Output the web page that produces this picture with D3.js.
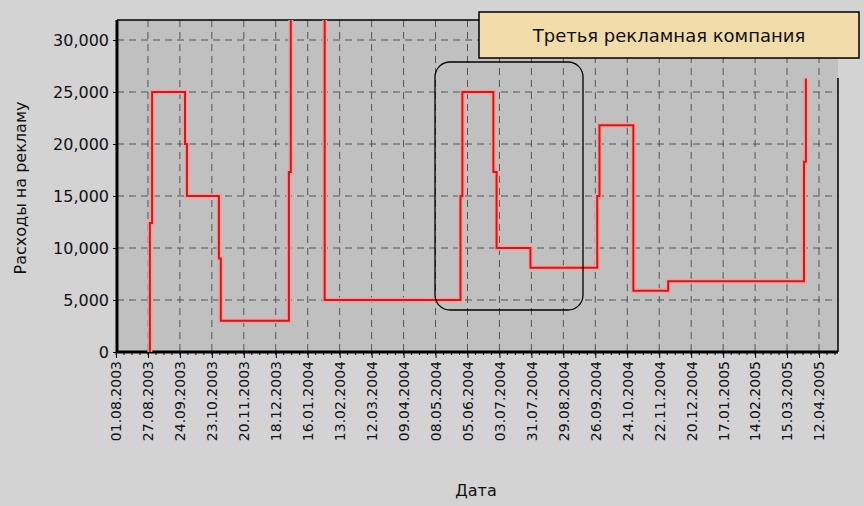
<!DOCTYPE html>
<html>
<head>
<script src="https://d3js.org/d3.v7.min.js"></script>
<style>
  body { margin: 0; background: #d3d3d3; }
  text { font-family: "DejaVu Sans", sans-serif; }
</style>
</head>
<body>
<svg id="chart"></svg>
<script>
const dateLabels = ["01.08.2003", "27.08.2003", "24.09.2003", "23.10.2003", "20.11.2003", "18.12.2003",
  "16.01.2004", "13.02.2004", "12.03.2004", "09.04.2004", "08.05.2004", "05.06.2004", "03.07.2004",
  "31.07.2004", "29.08.2004", "26.09.2004", "24.10.2004", "22.11.2004", "20.12.2004", "17.01.2005",
  "14.02.2005", "15.03.2005", "12.04.2005"];
// position measured in tick units (0 = 01.08.2003), spend in roubles; value changes at each point
const stepPos = [1.06, 1.06, 1.13, 2.16, 2.22, 3.22, 3.28, 5.41, 5.47, 6.53, 10.78, 10.84,
  11.81, 11.91, 12.97, 15.06, 15.13, 16.19, 17.28, 21.53, 21.59];
const stepVal = [0, 12400, 25000, 20000, 15000, 9000, 3000, 17300, 40000, 5000, 15000, 25000,
  17300, 10000, 8100, 15000, 21800, 5900, 6800, 18300, 26300];
const yTicks = [0, 5000, 10000, 15000, 20000, 25000, 30000];

const width = 864, height = 506;
const pLeft = 117, pTop = 20, pRight = 838, pBottom = 352;

const svg = d3.select("#chart").attr("width", width).attr("height", height);

const x = d3.scaleLinear().domain([0, 22]).range([116, 819]);
const y = d3.scaleLinear().domain([0, 30000]).range([pBottom, 40]);

svg.append("rect").attr("x", pLeft).attr("y", pTop)
  .attr("width", pRight - pLeft).attr("height", pBottom - pTop).attr("fill", "#c0c0c0");

svg.append("defs").append("clipPath").attr("id", "clip")
  .append("rect").attr("x", pLeft).attr("y", pTop).attr("width", pRight - pLeft).attr("height", pBottom - pTop);

// grid
const grid = svg.append("g").attr("stroke", "#555").attr("stroke-dasharray", "7,5").attr("stroke-width", 1);
grid.selectAll(".gx").data(d3.range(1, 23)).enter().append("line")
  .attr("x1", d => x(d)).attr("x2", d => x(d)).attr("y1", pTop).attr("y2", pBottom);
grid.selectAll(".gy").data(yTicks.slice(1)).enter().append("line")
  .attr("x1", pLeft).attr("x2", pRight).attr("y1", d => y(d)).attr("y2", d => y(d));

// y axis
const yAxis = svg.append("g").attr("transform", `translate(${pLeft},0)`)
  .call(d3.axisLeft(y).tickValues(yTicks).tickSize(4).tickFormat(d3.format(",")));
yAxis.select(".domain").attr("stroke-width", 3).attr("d", `M0,${pTop}V${pBottom}`);
yAxis.selectAll("text").attr("font-size", 16).attr("fill", "#111").attr("x", -8);

// x axis
const xAxis = svg.append("g").attr("transform", `translate(0,${pBottom})`)
  .call(d3.axisBottom(x).tickValues(d3.range(0, 23)).tickSize(6).tickFormat(i => dateLabels[i]));
xAxis.select(".domain").attr("stroke-width", 3).attr("d", `M${pLeft},0H${pRight}`);
xAxis.selectAll("text").attr("font-size", 14).attr("fill", "#111")
  .attr("transform", "rotate(-90)").attr("text-anchor", "end").attr("x", -9).attr("y", 0).attr("dy", "0.35em");
svg.append("g").attr("stroke", "#000").selectAll("line").data(d3.range(0, 22.6, 0.25)).enter().append("line")
  .attr("x1", d => x(d)).attr("x2", d => x(d)).attr("y1", pBottom).attr("y2", pBottom + 3);

// frame pieces
svg.append("line").attr("x1", pLeft).attr("x2", 480).attr("y1", pTop).attr("y2", pTop).attr("stroke", "#000").attr("stroke-width", 1.5);
svg.append("line").attr("x1", pRight).attr("x2", pRight).attr("y1", 78).attr("y2", pBottom).attr("stroke", "#000").attr("stroke-width", 1.5);

// series
const pts = stepPos.map((p, i) => [p, stepVal[i]]);
const line = d3.line().x(d => x(d[0])).y(d => y(d[1])).curve(d3.curveStepAfter);
const g = svg.append("g").attr("clip-path", "url(#clip)");
g.append("path").attr("d", line(pts)).attr("fill", "none").attr("stroke", "#f4a0a0").attr("stroke-width", 5);
g.append("path").attr("d", line(pts)).attr("fill", "none").attr("stroke", "#d01818").attr("stroke-width", 2);

// highlight box
svg.append("rect").attr("x", 435).attr("y", 62).attr("width", 148).attr("height", 248)
  .attr("rx", 15).attr("fill", "none").attr("stroke", "#000").attr("stroke-width", 1.3);

// label box
svg.append("rect").attr("x", 479).attr("y", 12).attr("width", 380).attr("height", 46)
  .attr("fill", "#f2dcaa").attr("stroke", "#000").attr("stroke-width", 1.5);
svg.append("text").attr("x", 669).attr("y", 42).attr("text-anchor", "middle")
  .attr("font-size", 18).attr("fill", "#111").text("Третья рекламная компания");

// titles
svg.append("text").attr("x", 476).attr("y", 496).attr("text-anchor", "middle")
  .attr("font-size", 16).attr("fill", "#111").text("Дата");
svg.append("text").attr("transform", "translate(26,188) rotate(-90)").attr("text-anchor", "middle")
  .attr("font-size", 16).attr("fill", "#111").text("Расходы на рекламу");
</script>
</body>
</html>
